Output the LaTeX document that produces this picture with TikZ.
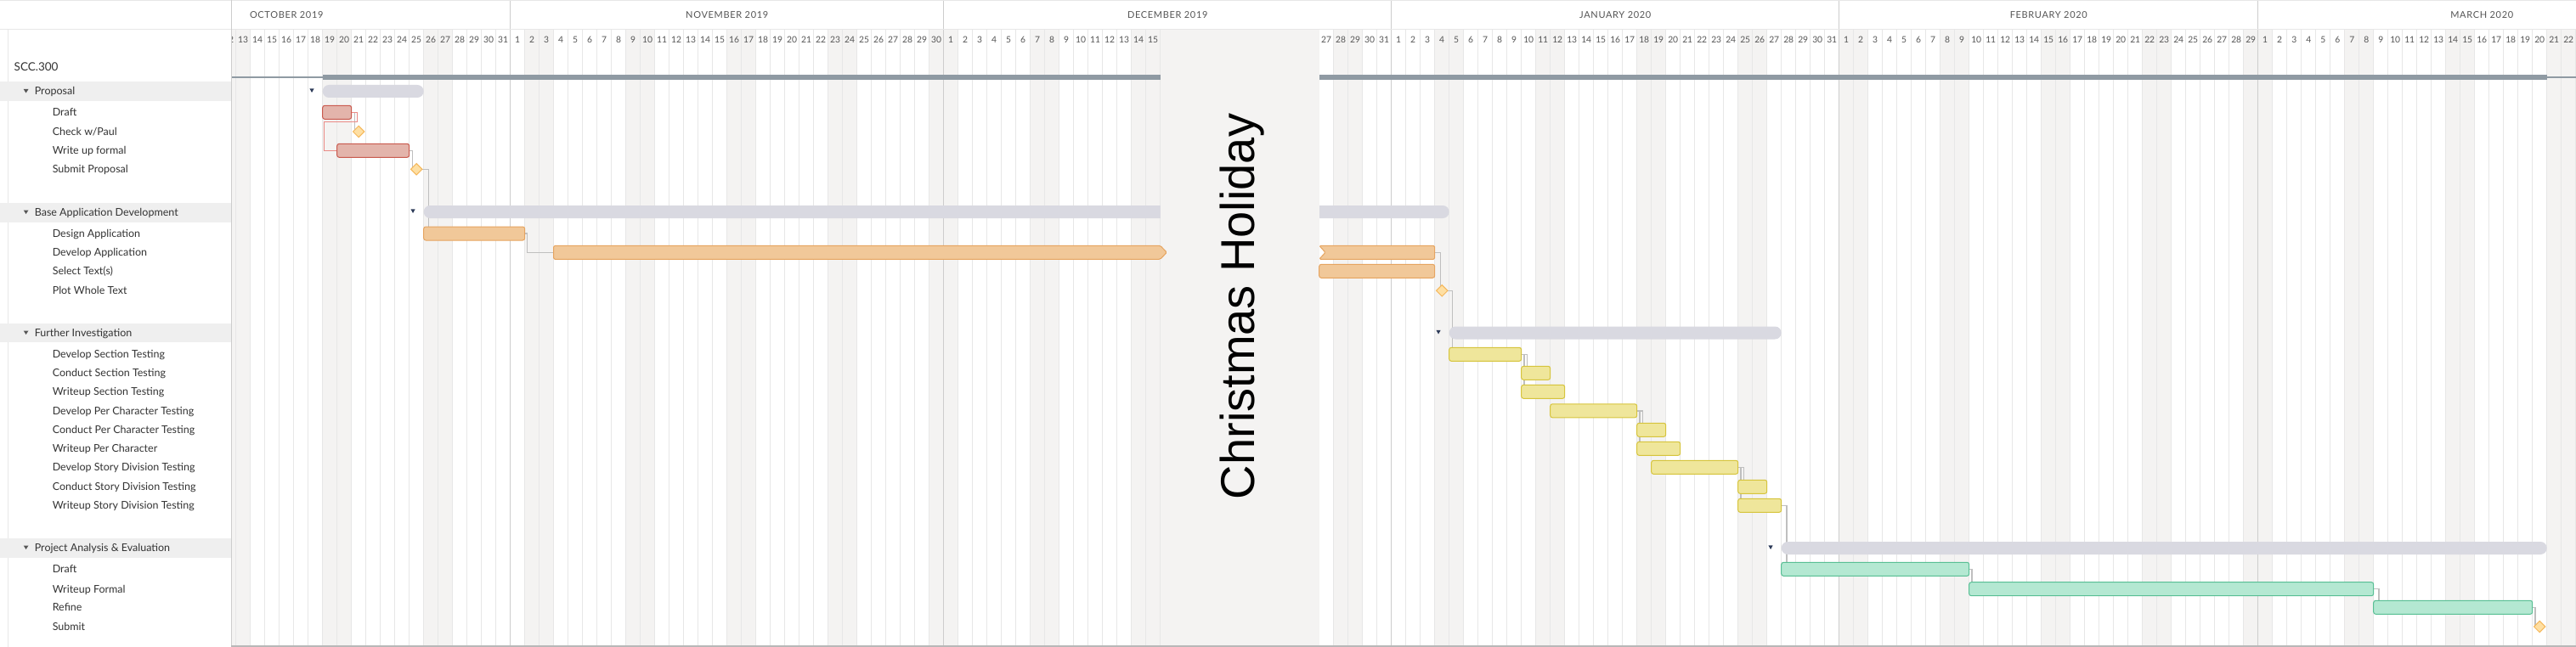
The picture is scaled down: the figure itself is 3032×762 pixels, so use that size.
\documentclass[tikz,border=0pt]{standalone}
\usepackage{fontspec}
\setmainfont{Lato}
\newfontfamily\monthfont[LetterSpace=6]{Lato}
\newfontfamily\holfont{Liberation Sans}
\usepackage{xcolor}
\usepackage{tikz}
\usetikzlibrary{shapes.geometric}

\definecolor{wkend}{HTML}{F4F3F2}
\definecolor{gridgray}{HTML}{E7E7E7}
\definecolor{monthgray}{HTML}{CDCDCD}
\definecolor{bandgray}{HTML}{EFEFEF}
\definecolor{projgray}{HTML}{8F9AA3}
\definecolor{grpgray}{HTML}{D9D9E1}
\definecolor{linkgray}{HTML}{BFBFBF}
\definecolor{redfill}{HTML}{E3B4AB}
\definecolor{redline}{HTML}{C95A4E}
\definecolor{redlink}{HTML}{EA8A86}
\definecolor{orfill}{HTML}{F1C899}
\definecolor{orline}{HTML}{E6A460}
\definecolor{yelfill}{HTML}{EFE69B}
\definecolor{yelline}{HTML}{D6C43C}
\definecolor{grnfill}{HTML}{B4E8D2}
\definecolor{grnline}{HTML}{58BF94}
\definecolor{milefill}{HTML}{FEDFA3}
\definecolor{mileline}{HTML}{F5B75A}
\definecolor{navy}{HTML}{2D3B59}
\definecolor{txt}{HTML}{333333}
\definecolor{hdrtxt}{HTML}{555555}
\definecolor{botgray}{HTML}{B8B8B8}

\pgfdeclarelayer{grid}
\pgfdeclarelayer{links}
\pgfsetlayers{grid,links,main}

\tikzset{
  taskbar/.style={anchor=west, minimum height=16pt, inner sep=0pt, outer sep=0pt, rounded corners=2.5pt, line width=1pt},
  days/.style={minimum width=#1*17pt},
  redbar/.style={taskbar, fill=redfill, draw=redline},
  orbar/.style={taskbar, fill=orfill, draw=orline},
  yelbar/.style={taskbar, fill=yelfill, draw=yelline},
  grnbar/.style={taskbar, fill=grnfill, draw=grnline},
  grpbar/.style={anchor=west, minimum height=15pt, inner sep=0pt, outer sep=0pt, rounded corners=7.5pt, fill=grpgray},
  mile/.style={diamond, minimum width=13.4pt, minimum height=13.4pt, inner sep=0pt, outer sep=0pt, fill=milefill, draw=mileline, line width=1pt},
  deplink/.style={draw=linkgray, line width=1.4pt},
  rdep/.style={draw=redlink, line width=1.5pt},
  tasklbl/.style={anchor=west, inner sep=0pt, text=txt, font=\fontsize{12.5}{14}\selectfont, text height=9pt, text depth=0pt},
  grplbl/.style={tasklbl},
  daylbl/.style={inner sep=0pt, text=hdrtxt, font=\fontsize{10.3}{12}\selectfont, text height=7.4pt, text depth=0pt},
  monthlbl/.style={inner sep=0pt, text=hdrtxt, font=\monthfont\fontsize{11}{13}\selectfont, text height=7.9pt, text depth=0pt},
  gridln/.style={draw=gridgray, line width=1pt},
}

\begin{document}
\begin{tikzpicture}[x=1pt, y=-1pt]
\useasboundingbox (0,0) rectangle (3032,762);

\begin{pgfonlayer}{grid}
\fill[white] (0,0) rectangle (3032,762);
\begin{scope}[xshift=277.7pt, x=17pt]
\foreach \i in {-1,...,161} {
  \pgfmathtruncatemacro\wk{mod(\i+7,7)}
  \ifnum\wk=0 \fill[wkend] (\i,35) rectangle ({\i+1},762); \fi
  \ifnum\wk=6 \fill[wkend] (\i,35) rectangle ({\i+1},762); \fi
}
\foreach \i in {-1,...,162} \draw[gridln] (\i,35) -- (\i,762);
\foreach \i in {19,49,80,111,140} \draw[draw=monthgray, line width=1pt] (\i,0) -- (\i,762);
\foreach \d in {12,...,31} \node[daylbl] (oct\d) at ({\d-12.5},47) {\d};
\foreach \d in {1,...,30} \node[daylbl] (nov\d) at ({\d+18.5},47) {\d};
\foreach \d in {1,...,15,27,28,29,30,31} \node[daylbl] (dec\d) at ({\d+48.5},47) {\d};
\foreach \d in {1,...,31} \node[daylbl] (jan\d) at ({\d+79.5},47) {\d};
\foreach \d in {1,...,29} \node[daylbl] (feb\d) at ({\d+110.5},47) {\d};
\foreach \d in {1,...,22} \node[daylbl] (mar\d) at ({\d+139.5},47) {\d};
\node[monthlbl] (moct) at (3.5,17.5) {OCTOBER 2019};
\node[monthlbl] (mnov) at (34,17.5) {NOVEMBER 2019};
\node[monthlbl] (mdec) at (64.5,17.5) {DECEMBER 2019};
\node[monthlbl] (mjan) at (95.5,17.5) {JANUARY 2020};
\node[monthlbl] (mfeb) at (125.5,17.5) {FEBRUARY 2020};
\node[monthlbl] (mmar) at (155.5,17.5) {MARCH 2020};
\draw[projgray, line width=1.5pt] (-1,91) -- (162,91);
\fill[projgray] (6,88) rectangle (64,94);
\fill[projgray] (75,88) rectangle (160,94);
\end{scope}
\fill[white] (0,0) rectangle (272,762);
\draw[gridln] (9,35) -- (9,762);
\fill[bandgray] (0,96.3) rectangle (272,119);
\fill[bandgray] (0,239) rectangle (272,261.5);
\fill[bandgray] (0,380.5) rectangle (272,403);
\fill[bandgray] (0,634) rectangle (272,656.5);
\draw[gridln] (0,0.5) -- (3032,0.5);
\draw[gridln] (0,35) -- (3032,35);
\draw[draw=monthgray, line width=1pt] (272,0) -- (272,762);
\draw[botgray, line width=2pt] (272,761) -- (3032,761);
\end{pgfonlayer}

\node[anchor=west, inner sep=0pt, text=txt, font=\fontsize{13.5}{16}\selectfont, text height=9.7pt, text depth=0pt] (proj) at (16.5,79) {SCC.300};
\node[grplbl] (lprop) at (40.6,107.5) {Proposal};
\node[grplbl] (lbase) at (40.6,250) {Base Application Development};
\node[grplbl] (lfurth) at (40.6,392) {Further Investigation};
\node[grplbl] (lpae) at (40.6,645) {Project Analysis \& Evaluation};
\foreach \g in {lprop,lbase,lfurth,lpae}
  \fill[hdrtxt] ([xshift=-12.9pt,yshift=2.5pt]\g.west) -- ++(5.8,0) -- ++(-2.9,4.5) -- cycle;
\node[tasklbl] (ldraft) at (61.6,132.3) {Draft};
\node[tasklbl] (lcheck) at (61.6,155) {Check w/Paul};
\node[tasklbl] (lwrite) at (61.6,177.3) {Write up formal};
\node[tasklbl] (lsubmit) at (61.6,199.3) {Submit Proposal};
\node[tasklbl] (ldesign) at (61.6,275) {Design Application};
\node[tasklbl] (ldevelop) at (61.6,297.3) {Develop Application};
\node[tasklbl] (lselect) at (61.6,319.3) {Select Text(s)};
\node[tasklbl] (lplot) at (61.6,342.3) {Plot Whole Text};
\node[tasklbl] (ldst) at (61.6,417.3) {Develop Section Testing};
\node[tasklbl] (lcst) at (61.6,439.3) {Conduct Section Testing};
\node[tasklbl] (lwst) at (61.6,461.3) {Writeup Section Testing};
\node[tasklbl] (ldpc) at (61.6,483.8) {Develop Per Character Testing};
\node[tasklbl] (lcpc) at (61.6,506.3) {Conduct Per Character Testing};
\node[tasklbl] (lwpc) at (61.6,528.3) {Writeup Per Character};
\node[tasklbl] (ldsd) at (61.6,550.3) {Develop Story Division Testing};
\node[tasklbl] (lcsd) at (61.6,573.3) {Conduct Story Division Testing};
\node[tasklbl] (lwsd) at (61.6,595.3) {Writeup Story Division Testing};
\node[tasklbl] (lpadr) at (61.6,670.3) {Draft};
\node[tasklbl] (lwf) at (61.6,693.7) {Writeup Formal};
\node[tasklbl] (lref) at (61.6,715.3) {Refine};
\node[tasklbl] (lsub) at (61.6,738) {Submit};

\begin{scope}[xshift=277.7pt, x=17pt]
\node[grpbar, days=7] (prop) at (6,107.5) {};
\node[grpbar, days=71] (base) at (13,249.5) {};
\node[grpbar, days=23] (furth) at (84,392) {};
\node[grpbar, days=53] (pae) at (107,645.5) {};
\fill[wkend] (64,35.5) rectangle (75,760);
\node[redbar, days=2] (draft) at (6,132.3) {};
\node[mile] (check) at (8.5,155) {};
\node[redbar, days=5] (write) at (7,177.3) {};
\node[mile] (submit) at (12.5,199.3) {};
\node[orbar, days=7] (design) at (13,275) {};
\node[orbar, days=8] (select) at (75,319.3) {};
\node[mile] (plot) at (83.5,342.3) {};
\node[yelbar, days=5] (dst) at (84,417.3) {};
\node[yelbar, days=2] (cst) at (89,439.3) {};
\node[yelbar, days=3] (wst) at (89,461.3) {};
\node[yelbar, days=6] (dpc) at (91,483.8) {};
\node[yelbar, days=2] (cpc) at (97,506.3) {};
\node[yelbar, days=3] (wpc) at (97,528.3) {};
\node[yelbar, days=6] (dsd) at (98,550.3) {};
\node[yelbar, days=2] (csd) at (104,573.3) {};
\node[yelbar, days=3] (wsd) at (104,595.3) {};
\node[grnbar, days=13] (padr) at (107,670.3) {};
\node[grnbar, days=28] (wf) at (120,693.7) {};
\node[grnbar, days=11] (ref) at (148,715.3) {};
\node[mile] (psub) at (159.5,738) {};
\end{scope}

\draw[fill=orfill, draw=orline, line width=1pt, rounded corners=1.5pt] (1365.7,289.3) -- (651.7,289.3) -- (651.7,305.3) -- (1365.7,305.3) -- (1373.3,297.3) -- cycle;
\draw[fill=orfill, draw=orline, line width=1pt, rounded corners=1.5pt] (1552.7,289.3) -- (1688.7,289.3) -- (1688.7,305.3) -- (1552.7,305.3) -- (1560,297.3) -- cycle;
\coordinate (devA) at (651.7,297.3);
\coordinate (devB) at (1688.7,297.3);

\foreach \g in {prop,base,furth,pae}
  \fill[navy] ([xshift=-15.3pt,yshift=3.2pt]\g.west) -- ++(5.3,0) -- ++(-2.65,4.7) -- cycle;

\node[rotate=90, anchor=base, inner sep=0pt, font=\holfont\fontsize{56}{60}\selectfont] (hol) at (1476.7,361) {Christmas Holiday};

\begin{pgfonlayer}{links}
\draw[deplink] (draft.east) -- ++(3.6,0) coordinate (k) -- (k |- check.center);
\draw[rdep] (draft.east) -- ++(6.6,0) -- ++(0,11.4) -| ([xshift=-15pt]write.west) -- (write.west);
\draw[deplink] (write.east) -- ++(3.7,0) coordinate (k) -- (k |- submit.center);
\draw[deplink] (submit.east) -- ++(7.6,0) coordinate (k) -- (k |- design.north);
\draw[deplink] (design.east) -- ++(3,0) |- (devA);
\draw[deplink] (devB) -- ++(6.6,0) coordinate (k) -- (k |- plot.center);
\draw[deplink] (plot.east) -- ++(5.3,0) coordinate (k) -- (k |- dst.north);
\foreach \a/\b/\c in {dst/cst/wst, dpc/cpc/wpc, dsd/csd/wsd} {
  \draw[deplink] (\a.east) -- ++(6.6,0) coordinate (k) -- (k |- \b.north);
  \draw[deplink] (\a.east) -- ++(3.3,0) coordinate (k) -- (k |- \c.north);
}
\draw[deplink] (wsd.east) -- ++(6.2,0) coordinate (k) -- (k |- padr.north);
\draw[deplink] (padr.east) -- ++(3.3,0) coordinate (k) -- (k |- wf.north);
\draw[deplink] (wf.east) -- ++(6.1,0) coordinate (k) -- (k |- ref.north);
\draw[deplink] (ref.east) -- ++(3.4,0) coordinate (k) -- (k |- psub.center);
\end{pgfonlayer}
\end{tikzpicture}
\end{document}
